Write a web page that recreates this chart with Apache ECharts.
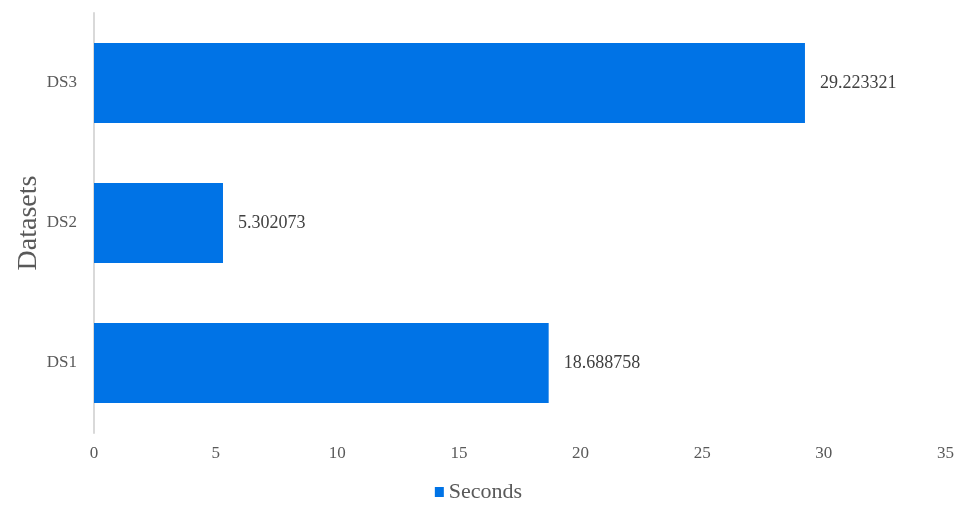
<!DOCTYPE html>
<html><head><meta charset="utf-8">
<script src="https://cdn.jsdelivr.net/npm/echarts@6/dist/echarts.min.js"></script>
<style>html,body{margin:0;padding:0;background:#fff}#c{width:957px;height:508px}</style>
</head><body><div id="c"></div>
<script>
var categories = ['DS1', 'DS2', 'DS3'];
var seconds = [18.688758, 5.302073, 29.223321];
var xTicks = [0, 5, 10, 15, 20, 25, 30, 35];

var font = '"Liberation Serif", "Times New Roman", serif';
var chart = echarts.init(document.getElementById('c'));
chart.setOption({
  animation: false,
  grid: {left: 94, right: 10, top: 13, bottom: 75, containLabel: false},
  legend: {
    bottom: 0, left: 'center', itemWidth: 9, itemHeight: 10, icon: 'rect', itemGap: 5,
    textStyle: {fontFamily: font, fontSize: 22, color: '#595959'},
    data: ['Seconds']
  },
  xAxis: {
    type: 'value', min: xTicks[0], max: xTicks[xTicks.length - 1], interval: 5,
    axisLine: {show: false}, axisTick: {show: false}, splitLine: {show: false},
    axisLabel: {fontFamily: font, fontSize: 17, color: '#595959', margin: 12}
  },
  yAxis: {
    type: 'category', data: categories,
    name: 'Datasets', nameLocation: 'middle', nameGap: 51, nameMoveOverlap: false,
    nameTextStyle: {fontFamily: font, fontSize: 28, color: '#595959'},
    axisLine: {show: true, lineStyle: {color: '#d9d9d9', width: 2}},
    axisTick: {show: false},
    axisLabel: {fontFamily: font, fontSize: 17, color: '#595959', margin: 17}
  },
  series: [{
    name: 'Seconds', type: 'bar', data: seconds, barCategoryGap: '43%',
    itemStyle: {color: '#0073E6'},
    label: {show: true, position: 'right', distance: 15, fontFamily: font, fontSize: 18, color: '#404040',
      formatter: function (p) { return p.value.toFixed(6); }}
  }]
});
</script></body></html>
